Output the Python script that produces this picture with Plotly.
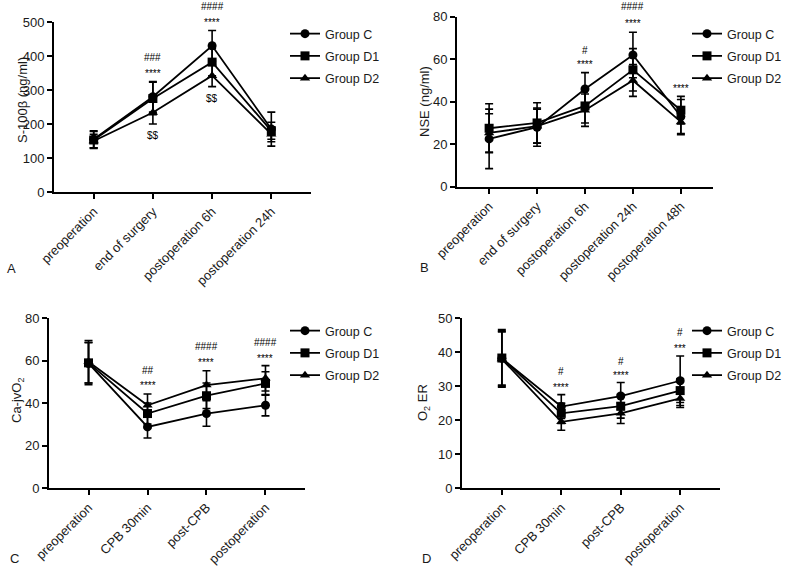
import plotly.graph_objects as go

W, H = 800, 568
FONT = "Liberation Sans, Arial, sans-serif"

groups = ["Group C", "Group D1", "Group D2"]
symbols = ["circle", "square", "triangle-up"]

# Panel A: S-100beta
cats_a = ["preoperation", "end of surgery", "postoperation 6h", "postoperation 24h"]
a_c = [155, 280, 430, 185]
a_c_err = [25, 45, 45, 50]
a_d1 = [153, 275, 382, 180]
a_d1_err = [25, 48, 40, 25]
a_d2 = [150, 234, 342, 170]
a_d2_err = [20, 34, 32, 22]

# Panel B: NSE
cats_b = ["preoperation", "end of surgery", "postoperation 6h", "postoperation 24h", "postoperation 48h"]
b_c = [22.5, 28, 46, 62, 33]
b_c_err = [14, 9, 7.7, 10.7, 8]
b_d1 = [27.5, 30, 38, 55, 36]
b_d1_err = [11.5, 9.5, 8, 10, 6.5]
b_d2 = [25.3, 28.5, 36, 50, 30.5]
b_d2_err = [9, 8, 7.6, 7.5, 6]

# Panel C: Ca-jvO2
cats_c = ["preoperation", "CPB 30min", "post-CPB", "postoperation"]
c_c = [58.7, 28.8, 35.1, 39]
c_c_err = [10, 5.2, 6, 5]
c_d1 = [59, 35.1, 43.5, 49.3]
c_d1_err = [9.5, 5, 6, 5.5]
c_d2 = [59.5, 39, 48.5, 51.7]
c_d2_err = [10, 5.3, 6.8, 6]

# Panel D: O2 ER
cats_d = ["preoperation", "CPB 30min", "post-CPB", "postoperation"]
d_c = [38.2, 24, 27.1, 31.6]
d_c_err = [8.5, 3.5, 4, 7.3]
d_d1 = [38.3, 22, 24.1, 28.7]
d_d1_err = [8, 3, 3.5, 3.5]
d_d2 = [38, 19.5, 22, 26.4]
d_d2_err = [8, 2.5, 3, 2.7]

# significance marks: (category index, y value, text)
sig_a = [(1, 395, "###"), (1, 350, "****"), (1, 165, "$$"),
         (2, 545, "####"), (2, 498, "****"), (2, 276, "$$")]
sig_b = [(2, 64, "#"), (2, 57.3, "****"),
         (3, 84.7, "####"), (3, 76.9, "****"),
         (4, 46.4, "****")]
sig_c = [(1, 55.6, "##"), (1, 48.5, "****"),
         (2, 66.6, "####"), (2, 59, "****"),
         (3, 68.5, "####"), (3, 61, "****")]
sig_d = [(1, 34.3, "#"), (1, 29.7, "****"),
         (2, 37.4, "#"), (2, 33, "****"),
         (3, 45.9, "#"), (3, 41.2, "***")]

panels = [
    dict(cats=cats_a, series=[(a_c, a_c_err), (a_d1, a_d1_err), (a_d2, a_d2_err)], sig=sig_a,
         xpx=(54, 311), ypx=(192, 22), yrange=[0, 500], dtick=100,
         title="S-100β (ng/ml)", tx=22, ty=100, label="A", lx=5, ly=268, leg=(285, 19)),
    dict(cats=cats_b, series=[(b_c, b_c_err), (b_d1, b_d1_err), (b_d2, b_d2_err)], sig=sig_b,
         xpx=(457, 713), ypx=(186.7, 16.7), yrange=[0, 80], dtick=20,
         title="NSE (ng/ml)", tx=425, ty=102, label="B", lx=418, ly=267, leg=(687, 19)),
    dict(cats=cats_c, series=[(c_c, c_c_err), (c_d1, c_d1_err), (c_d2, c_d2_err)], sig=sig_c,
         xpx=(49, 305), ypx=(488, 318.3), yrange=[0, 80], dtick=20,
         title="Ca-jvO<sub>2</sub>", tx=17, ty=400, label="C", lx=8, ly=558, leg=(285, 316)),
    dict(cats=cats_d, series=[(d_c, d_c_err), (d_d1, d_d1_err), (d_d2, d_d2_err)], sig=sig_d,
         xpx=(462, 720), ypx=(488, 318.3), yrange=[0, 50], dtick=10,
         title="O<sub>2</sub> ER", tx=423, ty=403, label="D", lx=420, ly=558, leg=(687, 316)),
]

fig = go.Figure()
layout = dict(width=W, height=H, margin=dict(l=0, r=0, t=0, b=0, autoexpand=False),
              paper_bgcolor="white", plot_bgcolor="white",
              font=dict(family=FONT, size=12, color="#1a1a1a"), annotations=[])

for i, p in enumerate(panels):
    n = i + 1
    xa = "x" if n == 1 else f"x{n}"
    ya = "y" if n == 1 else f"y{n}"
    leg = "legend" if n == 1 else f"legend{n}"
    for g, sym, (vals, errs) in zip(groups, symbols, p["series"]):
        fig.add_trace(go.Scatter(
            x=p["cats"], y=vals, name=g, mode="lines+markers",
            line=dict(color="black", width=1.8),
            marker=dict(symbol=sym, size=9, color="black"),
            error_y=dict(type="data", array=errs, color="black", thickness=1.6, width=4),
            xaxis=xa, yaxis=ya, legend=leg, legendgroup=f"{n}{g}", cliponaxis=False))
    ncat = len(p["cats"])
    xr = [-0.67, ncat - 1 + 0.67]
    xd = [p["xpx"][0] / W, p["xpx"][1] / W]
    yd = [1 - p["ypx"][0] / H, 1 - p["ypx"][1] / H]
    layout["xaxis" if n == 1 else f"xaxis{n}"] = dict(
        domain=xd, anchor=ya, type="category", range=xr,
        showline=True, linecolor="black", linewidth=2, ticks="outside", ticklen=5,
        tickwidth=2, tickcolor="black", tickangle=-45, showgrid=False, zeroline=False,
        tickfont=dict(family=FONT, size=13, color="#1a1a1a"))
    layout["yaxis" if n == 1 else f"yaxis{n}"] = dict(
        domain=yd, anchor=xa, range=p["yrange"], dtick=p["dtick"], tick0=0,
        showline=True, linecolor="black", linewidth=2, ticks="outside", ticklen=5,
        tickwidth=2, tickcolor="black", showgrid=False, zeroline=False,
        tickfont=dict(family=FONT, size=13, color="#1a1a1a"))
    layout[leg] = dict(x=p["leg"][0] / W, y=1 - p["leg"][1] / H, xanchor="left", yanchor="top",
                       bgcolor="rgba(0,0,0,0)", font=dict(family=FONT, size=12.5, color="#1a1a1a"),
                       tracegroupgap=3, traceorder="grouped")
    layout["annotations"].append(dict(
        text=p["title"], x=p["tx"] / W, y=1 - p["ty"] / H, xref="paper", yref="paper",
        textangle=-90, showarrow=False, xanchor="center", yanchor="middle",
        font=dict(family=FONT, size=13, color="#1a1a1a")))
    layout["annotations"].append(dict(
        text=p["label"], x=p["lx"] / W, y=1 - p["ly"] / H, xref="paper", yref="paper",
        showarrow=False, xanchor="left", yanchor="middle",
        font=dict(family=FONT, size=13, color="#1a1a1a")))
    y0, y1 = p["yrange"]
    for ci, yv, txt in p["sig"]:
        px_x = xd[0] + (ci - xr[0]) / (xr[1] - xr[0]) * (xd[1] - xd[0])
        px_y = yd[0] + (yv - y0) / (y1 - y0) * (yd[1] - yd[0])
        layout["annotations"].append(dict(
            text=txt, x=px_x, y=px_y, xref="paper", yref="paper", showarrow=False,
            xanchor="center", yanchor="middle",
            font=dict(family=FONT, size=10, color="black")))

fig.update_layout(**layout)
fig.write_html("out.html", config={"displayModeBar": False},
               post_script="document.body.style.margin='0';document.body.style.overflow='hidden';")
